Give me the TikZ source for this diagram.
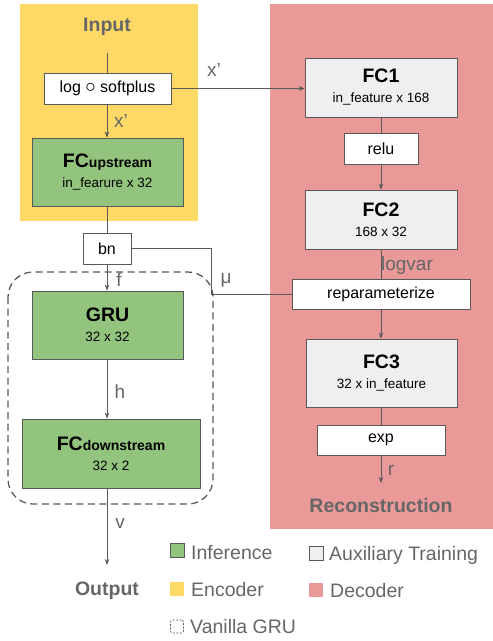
\documentclass[tikz,border=0pt]{standalone}
\usepackage{fontspec}
\setmainfont{Liberation Sans}
\usetikzlibrary{arrows.meta}
\definecolor{yel}{HTML}{FFD966}
\definecolor{redd}{HTML}{EA9999}
\definecolor{grn}{HTML}{93C47D}
\definecolor{lgr}{HTML}{EFEFEF}
\definecolor{lineg}{HTML}{595959}
\definecolor{labg}{HTML}{666666}
\tikzset{
  box/.style={draw=lineg, line width=0.8pt, inner sep=0pt, align=center, text=black},
  smallbox/.style={box, fill=white, minimum height=31pt, font=\fontsize{16}{18}\selectfont},
  bigbox/.style={box, font=\fontsize{13.5}{20}\selectfont},
  lab/.style={text=labg, font=\fontsize{19}{22}\selectfont, inner sep=0pt, anchor=base},
  ttl/.style={text=labg, font=\fontsize{19.5}{22}\selectfont\bfseries, inner sep=0pt, anchor=base},
  legtxt/.style={text=labg, font=\fontsize{19.5}{22}\selectfont, inner sep=0pt, anchor=base west},
  legsq/.style={minimum size=14pt, inner sep=0pt},
  conn/.style={draw=lineg, line width=0.8pt},
  arr/.style={conn, -{Stealth[length=6pt,width=4.5pt]}}
}
\newcommand{\bigt}[1]{{\fontsize{19.5}{20}\selectfont\bfseries #1}}
\newcommand{\subt}[1]{{\fontsize{14}{20}\selectfont\bfseries #1}}
\newcommand{\ringop}{{\fontsize{20}{18}\selectfont$\circ$}}
\begin{document}
\begin{tikzpicture}[x=1pt,y=-1pt]
\useasboundingbox (0,0) rectangle (493,641);
% background regions
\fill[yel] (20,4) rectangle (198,221);
\fill[redd] (270,4) rectangle (493,529);
% titles
\node[ttl] (input) at (107,31) {Input};
\node[ttl] (recon) at (381,512) {Reconstruction};
\node[ttl] (output) at (107,595) {Output};
% left column
\node[smallbox, minimum width=127pt] (log) at (107.5,88.5) {log \ringop{} softplus};
\node[bigbox, fill=grn, minimum width=151pt, minimum height=68pt] (fcup) at (107.5,172) {\bigt{FC}\subt{upstream}\\in\_fearure x 32};
\node[smallbox, minimum width=48pt] (bn) at (107,248.5) {bn};
\node[bigbox, fill=grn, minimum width=151pt, minimum height=68pt] (gru) at (107.5,325) {\bigt{GRU}\\32 x 32};
\node[bigbox, fill=grn, minimum width=178pt, minimum height=69pt] (fcdown) at (111,453.5) {\bigt{FC}\subt{downstream}\\32 x 2};
% vanilla GRU dashed frame
\draw[lineg, line width=1.3pt, dash pattern=on 7pt off 4.5pt, rounded corners=25pt] (8,272) rectangle (213,504);
% right column
\node[bigbox, fill=lgr, minimum width=152pt, minimum height=59pt] (fc1) at (381,87.5) {\bigt{FC1}\\in\_feature x 168};
\node[smallbox, minimum width=74pt] (relu) at (381,148.5) {relu};
\node[bigbox, fill=lgr, minimum width=152pt, minimum height=59pt] (fc2) at (381,219.5) {\bigt{FC2}\\168 x 32};
\node[smallbox, minimum width=178pt, minimum height=30pt] (repar) at (381,294) {reparameterize};
\node[bigbox, fill=lgr, minimum width=151pt, minimum height=68pt] (fc3) at (381.5,373) {\bigt{FC3}\\32 x in\_feature};
\node[smallbox, minimum width=128pt, minimum height=30pt] (exp) at (381,440) {exp};
% connector free ends
\coordinate (intop) at (107,53);
\coordinate (recend) at (381,483);
\coordinate (outend) at (107,565);
% connectors
\draw[conn] (intop) -- (intop |- log.north);
\draw[arr] (log.south -| intop) -- (intop |- fcup.north);
\draw[arr] (log.east) -- (fc1.west |- log.east);
\draw[conn] (fcup.south -| intop) -- (intop |- bn.north);
\draw[arr] (bn.south -| intop) -- (intop |- gru.north);
\draw[conn] (bn.east) -- ++(80,0) |- (repar.west);
\draw[arr] (gru.south -| intop) -- (intop |- fcdown.north);
\draw[arr] (fcdown.south -| intop) -- (outend);
\draw[conn] (fc1.south -| recend) -- (recend |- relu.north);
\draw[arr] (relu.south -| recend) -- (recend |- fc2.north);
\draw[conn] (fc2.south -| recend) -- (recend |- repar.north);
\draw[arr] (repar.south -| recend) -- (recend |- fc3.north);
\draw[conn] (fc3.south -| recend) -- (recend |- exp.north);
\draw[arr] (exp.south -| recend) -- (recend);
% edge labels
\node[lab] (lxr) at (214,76) {x’};
\node[lab] (lxd) at (121,127) {x’};
\node[lab] (lf) at (119,286) {f};
\node[lab] (lmu) at (226,283) {μ};
\node[lab] (lh) at (120,398) {h};
\node[lab] (lv) at (120,528) {v};
\node[lab] (llogvar) at (407,270) {logvar};
\node[lab] (lr) at (391,475) {r};
% legend
\node[legsq, fill=grn, draw=lineg, line width=0.8pt] (sqinf) at (177,550.5) {};
\node[legtxt] (tinf) at (191,559) {Inference};
\node[legsq, fill=lgr, draw=lineg, line width=0.8pt] (sqaux) at (316,553.5) {};
\node[legtxt] (taux) at (329,560) {Auxiliary Training};
\node[legsq, fill=yel] (sqenc) at (177,588.5) {};
\node[legtxt] (tenc) at (191,596) {Encoder};
\node[legsq, fill=redd] (sqdec) at (316,589.5) {};
\node[legtxt] (tdec) at (330,597) {Decoder};
\node[legsq, draw=lineg, line width=0.6pt, dash pattern=on 2pt off 1.5pt, rounded corners=2pt, minimum size=13pt] (sqvan) at (177,626.5) {};
\node[legtxt] (tvan) at (190,633) {Vanilla GRU};
\end{tikzpicture}
\end{document}
